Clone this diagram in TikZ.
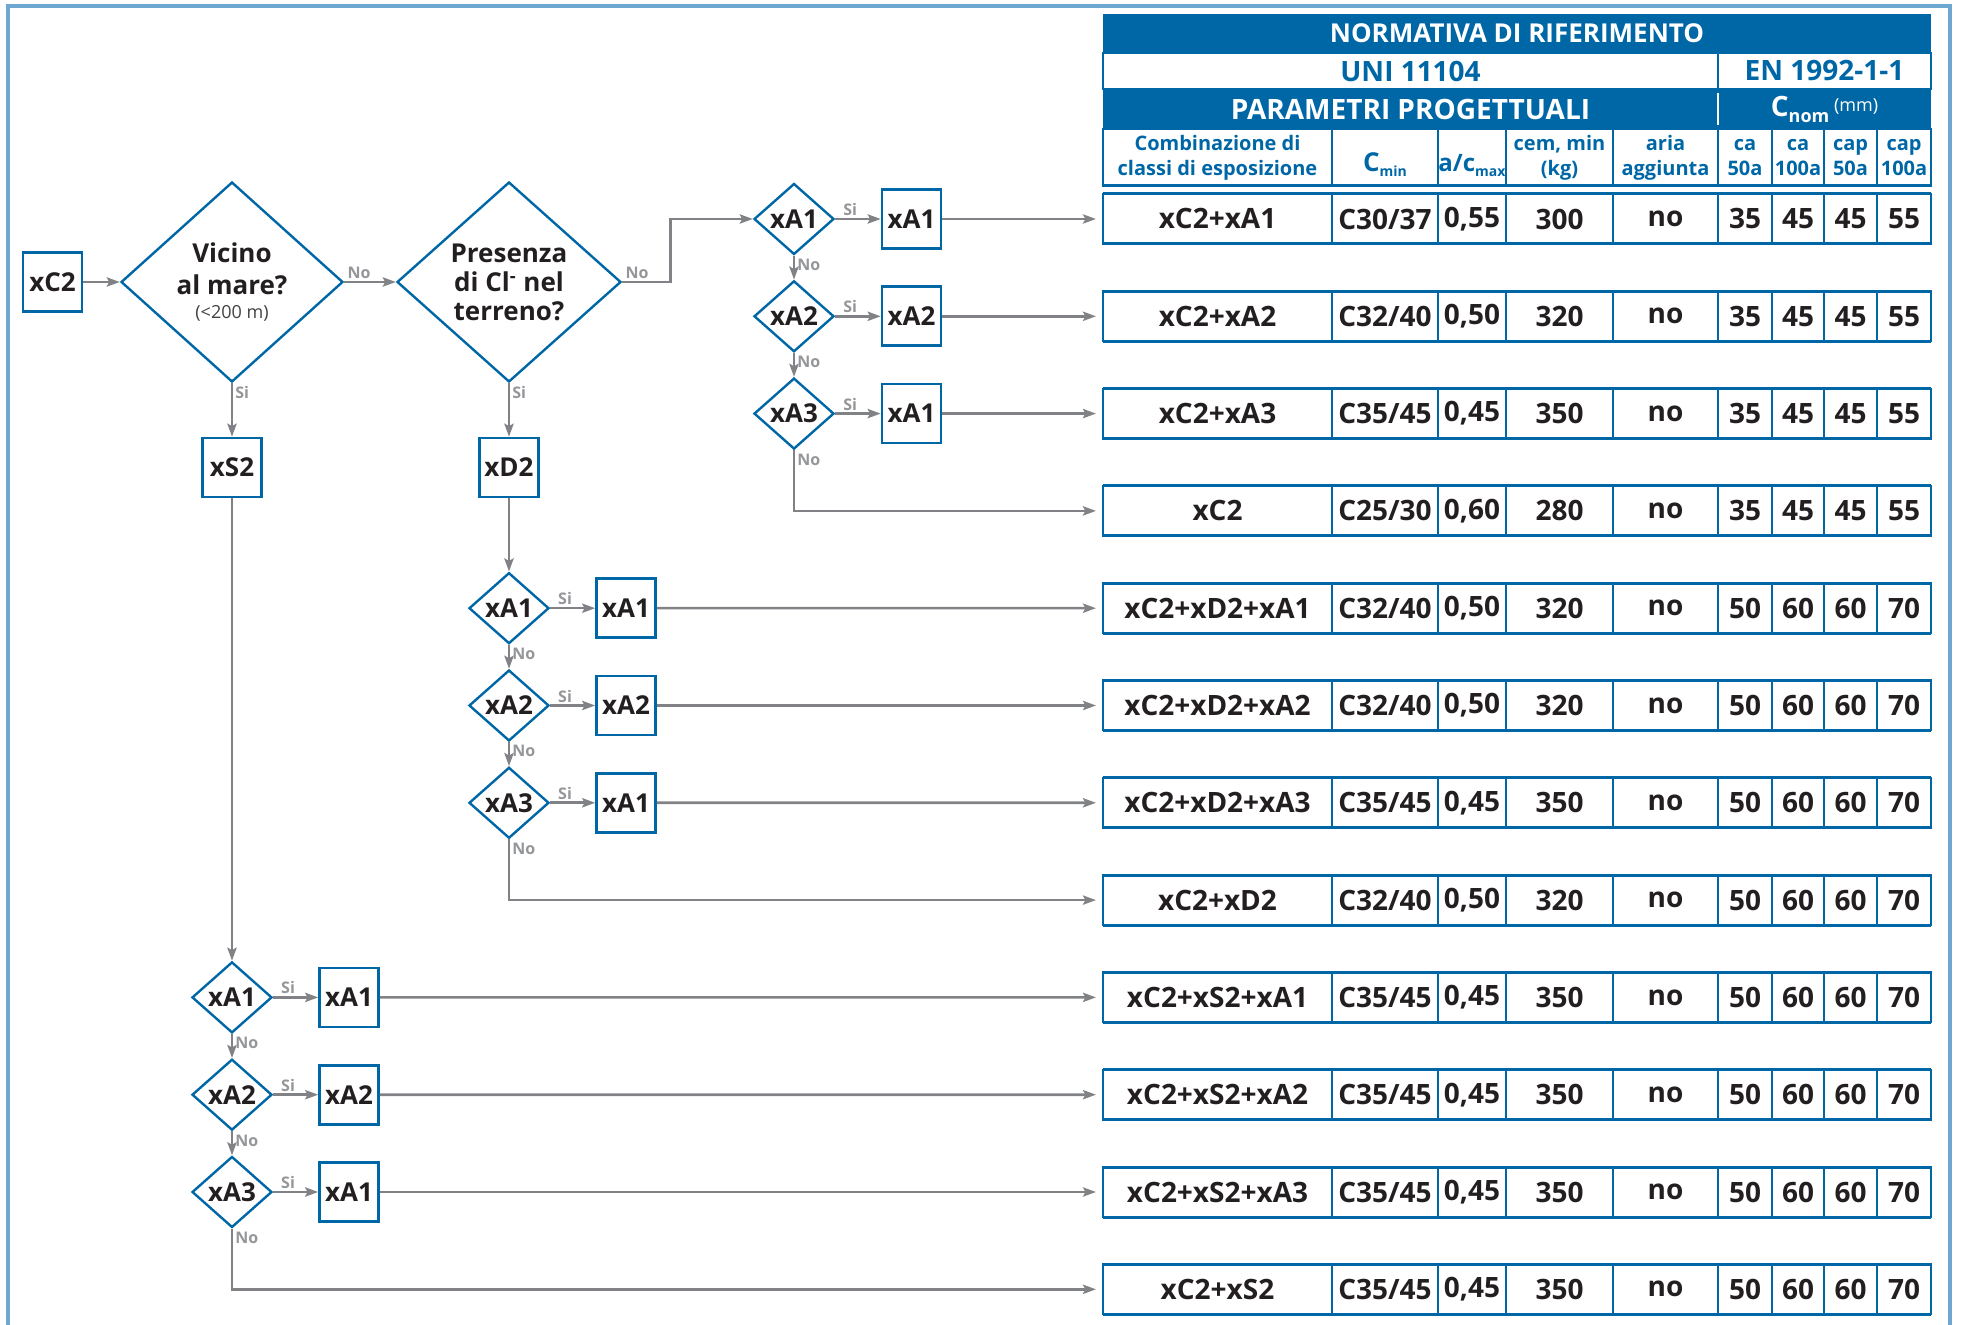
\documentclass[tikz,border=0pt]{standalone}
\usepackage{fontspec}
\setmainfont{Open Sans}
\usepackage{tikz}
\usetikzlibrary{shapes.geometric,arrows.meta}

\definecolor{normblue}{RGB}{0,103,166}
\definecolor{framecyan}{RGB}{110,168,208}
\definecolor{arrowgray}{RGB}{128,130,133}
\definecolor{inkdark}{RGB}{35,31,32}
\definecolor{notegray}{RGB}{148,150,153}

\tikzset{
  flowbox/.style={draw=normblue,line width=1.3pt,fill=white,minimum size=29.5pt,inner sep=0pt,text=inkdark,font=\fontsize{13}{15}\selectfont\bfseries},
  flowdia/.style={diamond,draw=normblue,line width=1.2pt,fill=white,minimum width=40pt,minimum height=35.5pt,inner sep=0pt,text=inkdark,font=\fontsize{13}{15}\selectfont\bfseries},
  bigdia/.style={flowdia,minimum width=111pt,minimum height=100pt,align=center},
  link/.style={draw=arrowgray,line width=1.3pt,-{Stealth[length=6.5pt,width=4.6pt,inset=1.2pt]}},
  torow/.style={link,shorten >=3pt},
  yesno/.style={font=\fontsize{8}{9}\selectfont\bfseries,text=notegray,inner sep=1pt},
  cell/.style={draw=normblue,line width=1pt,minimum height=25pt,inner sep=0pt,text=inkdark,font=\fontsize{14}{16}\selectfont\bfseries},
  headcell/.style={draw=normblue,line width=1pt,minimum height=28.5pt,inner sep=0pt,align=center,text=normblue,font=\fontsize{10}{12.5}\selectfont\bfseries},
  headtext/.style={inner sep=0pt,font=\fontsize{14}{16}\selectfont\bfseries},
  rowedge/.style={draw=normblue,line width=1.5pt},
}

\begin{document}
\begin{tikzpicture}[x=0.5pt,y=0.5pt,yscale=-1,xscale=1]
\useasboundingbox (0,0) rectangle (1961,1325);

%Frame
\draw [framecyan,line width=2pt] (8,1340) -- (8,6) -- (1950,6) -- (1950,1340);

%Table header
\fill [normblue] (1103,14) rectangle (1931,53);
\draw [normblue,line width=1pt] (1103,53) rectangle (1718,89) (1718,53) rectangle (1931,89);
\fill [normblue] (1103,89) rectangle (1931,129);
\draw [white,line width=1pt] (1718,93) -- (1718,125);

% Text Node
\node [headtext,text=white,font=\fontsize{13}{15}\selectfont\bfseries] (norm) at (1517,33.5) {NORMATIVA DI RIFERIMENTO};
% Text Node
\node [headtext,text=normblue] (uni) at (1410.5,71) {UNI 11104};
% Text Node
\node [headtext,text=normblue] (en) at (1824.5,71) {EN 1992-1-1};
% Text Node
\node [headtext,text=white] (param) at (1410.5,109) {PARAMETRI PROGETTUALI};
% Text Node
\node [headtext,text=white] (cnom) at (1824.5,109) {C\raisebox{-3pt}{\fontsize{9}{9}\selectfont nom}\,\raisebox{2.5pt}{\fontsize{9}{9}\selectfont\mdseries (mm)}};

%Column headings
\node [headcell,minimum width=114.5pt] (hcomb) at (1217.5,157.5) {Combinazione di\\classi di esposizione};
\node [headcell,minimum width=53pt,text height=16pt,text depth=2.2pt] (hcmin) at (1385,157.5) {{\fontsize{13}{13}\selectfont C}\raisebox{-2.5pt}{\fontsize{7}{7}\selectfont min}};
\node [headcell,minimum width=34pt,text height=16pt,text depth=2.2pt] (hac) at (1472,157.5) {{\fontsize{12}{12}\selectfont a/c}\raisebox{-2.5pt}{\fontsize{7}{7}\selectfont max}};
\node [headcell,minimum width=53.5pt] (hcem) at (1559.5,157.5) {cem, min\\(kg)};
\node [headcell,minimum width=52.5pt] (haria) at (1665.5,157.5) {aria\\aggiunta};
\node [headcell,minimum width=27pt] (hcaa) at (1745,157.5) {ca\\50a};
\node [headcell,minimum width=26pt] (hcab) at (1798,157.5) {ca\\100a};
\node [headcell,minimum width=26.5pt] (hcapa) at (1850.5,157.5) {cap\\50a};
\node [headcell,minimum width=27pt] (hcapb) at (1904,157.5) {cap\\100a};
\draw [rowedge] (1103,186) -- (1931,186);

%Table rows
\foreach \k/\cmb/\cmin/\acmax/\cemmin/\ncaA/\ncaB/\ncapA/\ncapB in {
  1/xC2+xA1/{C30/37}/{0,55}/300/35/45/45/55,
  2/xC2+xA2/{C32/40}/{0,50}/320/35/45/45/55,
  3/xC2+xA3/{C35/45}/{0,45}/350/35/45/45/55,
  4/xC2/{C25/30}/{0,60}/280/35/45/45/55,
  5/xC2+xD2+xA1/{C32/40}/{0,50}/320/50/60/60/70,
  6/xC2+xD2+xA2/{C32/40}/{0,50}/320/50/60/60/70,
  7/xC2+xD2+xA3/{C35/45}/{0,45}/350/50/60/60/70,
  8/xC2+xD2/{C32/40}/{0,50}/320/50/60/60/70,
  9/xC2+xS2+xA1/{C35/45}/{0,45}/350/50/60/60/70,
  10/xC2+xS2+xA2/{C35/45}/{0,45}/350/50/60/60/70,
  11/xC2+xS2+xA3/{C35/45}/{0,45}/350/50/60/60/70,
  12/xC2+xS2/{C35/45}/{0,45}/350/50/60/60/70}{
  \pgfmathsetmacro\yc{219+97.3*(\k-1)}
  \node [cell,minimum width=114.5pt] (r\k) at (1217.5,\yc) {\cmb};
  \node [cell,minimum width=53pt] at (1385,\yc) {\cmin};
  \node [cell,minimum width=34pt] at (1472,\yc) {\acmax};
  \node [cell,minimum width=53.5pt] at (1559.5,\yc) {\cemmin};
  \node [cell,minimum width=52.5pt] at (1665.5,\yc) {no};
  \node [cell,minimum width=27pt] at (1745,\yc) {\ncaA};
  \node [cell,minimum width=26pt] at (1798,\yc) {\ncaB};
  \node [cell,minimum width=26.5pt] at (1850.5,\yc) {\ncapA};
  \node [cell,minimum width=27pt] at (1904,\yc) {\ncapB};
  \draw [rowedge] (1103,\yc-25) -- (1931,\yc-25) (1103,\yc+25) -- (1931,\yc+25);
}

%Flowchart: start and questions
\node [flowbox] (xc) at (52.5,282) {xC2};
\node [bigdia,font=\fontsize{13}{16}\selectfont\bfseries] (dmare) at (232,282) {Vicino\\al mare?\\[-4pt]{\fontsize{9}{10}\selectfont\mdseries\color{inkdark!85} (<200 m)}};
\node [bigdia,minimum width=112pt,font=\fontsize{13}{14.5}\selectfont\bfseries] (dcl) at (509,282) {Presenza\\di Cl\textsuperscript{-} nel\\terreno?};
\node [flowbox] (xs) at (232,467.5) {xS2};
\node [flowbox] (xd) at (509,467.5) {xD2};

%Flowchart: top group
\node [flowdia] (ta1) at (794,219) {xA1};
\node [flowdia] (ta2) at (794,316.3) {xA2};
\node [flowdia] (ta3) at (794,413.6) {xA3};
\node [flowbox] (tb1) at (911.5,219) {xA1};
\node [flowbox] (tb2) at (911.5,316.3) {xA2};
\node [flowbox] (tb3) at (911.5,413.6) {xA1};

%Flowchart: middle group
\node [flowdia] (ma1) at (509,608.2) {xA1};
\node [flowdia] (ma2) at (509,705.5) {xA2};
\node [flowdia] (ma3) at (509,802.8) {xA3};
\node [flowbox] (mb1) at (626,608.2) {xA1};
\node [flowbox] (mb2) at (626,705.5) {xA2};
\node [flowbox] (mb3) at (626,802.8) {xA1};

%Flowchart: bottom group
\node [flowdia] (sa1) at (232,997.4) {xA1};
\node [flowdia] (sa2) at (232,1094.7) {xA2};
\node [flowdia] (sa3) at (232,1192) {xA3};
\node [flowbox] (sb1) at (349,997.4) {xA1};
\node [flowbox] (sb2) at (349,1094.7) {xA2};
\node [flowbox] (sb3) at (349,1192) {xA1};

%Straight Lines
\draw [link] (xc) -- (dmare);
\draw [link] (dmare) -- node [yesno,pos=0,above right] {No} (dcl);
\draw [link] (dmare) -- node [yesno,pos=0,below right] {Si} (xs);
\draw [link] (dcl) -- node [yesno,pos=0,below right] {Si} (xd);
\draw [link] (dcl.east) -- node [yesno,pos=0,above right] {No} ++(48,0) |- (ta1.west);
\draw [link] (xd) -- (ma1);
\draw [link] (xs) -- (sa1);

%Top group lines
\draw [link] (ta1) -- node [yesno,pos=0.33,above] {Si} (tb1);
\draw [link] (ta2) -- node [yesno,pos=0.33,above] {Si} (tb2);
\draw [link] (ta3) -- node [yesno,pos=0.33,above] {Si} (tb3);
\draw [link] (ta1) -- node [yesno,pos=0,below right] {No} (ta2);
\draw [link] (ta2) -- node [yesno,pos=0,below right] {No} (ta3);
\draw [torow] (ta3.south) |- node [yesno,pos=0,below right] {No} (r4.west);
\draw [torow] (tb1) -- (r1);
\draw [torow] (tb2) -- (r2);
\draw [torow] (tb3) -- (r3);

%Middle group lines
\draw [link] (ma1) -- node [yesno,pos=0.33,above] {Si} (mb1);
\draw [link] (ma2) -- node [yesno,pos=0.33,above] {Si} (mb2);
\draw [link] (ma3) -- node [yesno,pos=0.33,above] {Si} (mb3);
\draw [link] (ma1) -- node [yesno,pos=0,below right] {No} (ma2);
\draw [link] (ma2) -- node [yesno,pos=0,below right] {No} (ma3);
\draw [torow] (ma3.south) |- node [yesno,pos=0,below right] {No} (r8.west);
\draw [torow] (mb1) -- (r5);
\draw [torow] (mb2) -- (r6);
\draw [torow] (mb3) -- (r7);

%Bottom group lines
\draw [link] (sa1) -- node [yesno,pos=0.33,above] {Si} (sb1);
\draw [link] (sa2) -- node [yesno,pos=0.33,above] {Si} (sb2);
\draw [link] (sa3) -- node [yesno,pos=0.33,above] {Si} (sb3);
\draw [link] (sa1) -- node [yesno,pos=0,below right] {No} (sa2);
\draw [link] (sa2) -- node [yesno,pos=0,below right] {No} (sa3);
\draw [torow] (sa3.south) |- node [yesno,pos=0,below right] {No} (r12.west);
\draw [torow] (sb1) -- (r9);
\draw [torow] (sb2) -- (r10);
\draw [torow] (sb3) -- (r11);

\end{tikzpicture}
\end{document}
